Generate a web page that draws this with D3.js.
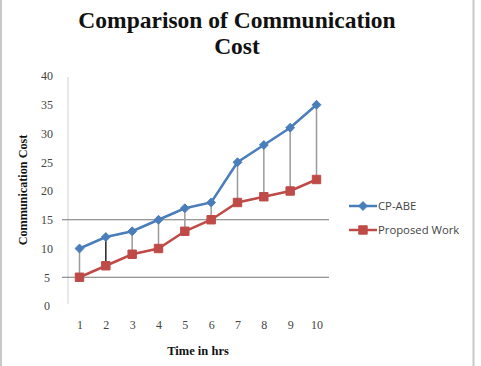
<!DOCTYPE html>
<html><head><meta charset="utf-8">
<script src="https://cdn.jsdelivr.net/npm/d3@7"></script>
<style>body{margin:0;background:#fff}svg{display:block}</style>
</head><body>
<svg id="c" width="481" height="366"></svg>
<script>
const hours = [1,2,3,4,5,6,7,8,9,10];
const cpabe = [10,12,13,15,17,18,25,28,31,35];
const proposed = [5,7,9,10,13,15,18,19,20,22];
const yTicks = [0,5,10,15,20,25,30,35,40];
const gridVals = [5,15];
const seriesNames = ["CP-ABE","Proposed Work"];

const svg = d3.select("#c");
// border
svg.append("line").attr("x1",1).attr("x2",1).attr("y1",0).attr("y2",366).attr("stroke","#c8c8c8").attr("stroke-width",2);
svg.append("line").attr("x1",473.5).attr("x2",473.5).attr("y1",0).attr("y2",366).attr("stroke","#c8c8c8").attr("stroke-width",2);

const x = d3.scalePoint().domain(hours).range([79.5,316.5]);
const y = d3.scaleLinear().domain([0,40]).range([306,76]);

// title
const serif = "'Liberation Serif','Times New Roman',serif";
svg.append("text").attr("x",237).attr("y",28).attr("text-anchor","middle")
  .attr("font-family",serif).attr("font-weight","bold").attr("font-size",23.5).attr("fill","#111")
  .text("Comparison of Communication");
svg.append("text").attr("x",237).attr("y",54).attr("text-anchor","middle")
  .attr("font-family",serif).attr("font-weight","bold").attr("font-size",23.5).attr("fill","#111")
  .text("Cost");

// y axis line
svg.append("line").attr("x1",68).attr("x2",68).attr("y1",y(40)+1).attr("y2",y(0)-2).attr("stroke","#d0d0d0").attr("stroke-width",1);
// gridlines
svg.selectAll(".grid").data(gridVals).join("line")
  .attr("x1",62).attr("x2",329).attr("y1",d=>y(d)).attr("y2",d=>y(d))
  .attr("stroke","#777").attr("stroke-width",1);

// y tick labels
const yAxis = d3.axisLeft(y).tickValues(yTicks).tickSize(0).tickPadding(0);
const gy = svg.append("g").attr("transform","translate(53,0)").call(yAxis);
gy.select(".domain").remove();
gy.selectAll("text").attr("font-family",serif).attr("font-size",12).attr("fill","#444").attr("text-anchor","middle").attr("x",-6);

// x tick labels
const xAxis = d3.axisBottom(x).tickSize(0).tickPadding(0);
const gx = svg.append("g").attr("transform","translate(0,320)").call(xAxis);
gx.select(".domain").remove();
gx.selectAll("text").attr("font-family",serif).attr("font-size",12).attr("fill","#444");

// axis titles
svg.append("text").attr("x",198).attr("y",355).attr("text-anchor","middle")
  .attr("font-family",serif).attr("font-weight","bold").attr("font-size",12.5).attr("fill","#111")
  .text("Time in hrs");
svg.append("text").attr("transform","translate(27,190) rotate(-90)").attr("text-anchor","middle")
  .attr("font-family",serif).attr("font-weight","bold").attr("font-size",12.2).attr("fill","#111")
  .text("Communication Cost");

// high-low lines
svg.selectAll(".hl").data(hours).join("line")
  .attr("x1",d=>x(d)).attr("x2",d=>x(d))
  .attr("y1",(d,i)=>y(cpabe[i])).attr("y2",(d,i)=>y(proposed[i]))
  .attr("stroke",(d,i)=> i===1 ? "#222" : "#9a9a9a").attr("stroke-width",1.5);

const blue = "#4a7ebb", red = "#be4b48";
const line = d3.line().x((d,i)=>x(hours[i])).y(d=>y(d));
svg.append("path").datum(cpabe).attr("d",line).attr("fill","none").attr("stroke",blue).attr("stroke-width",2.5);
svg.append("path").datum(proposed).attr("d",line).attr("fill","none").attr("stroke",red).attr("stroke-width",2.5);

const diamond = d3.symbol().type(d3.symbolDiamond2).size(50);
const square = d3.symbol().type(d3.symbolSquare2).size(90);
svg.selectAll(".mb").data(cpabe).join("path")
  .attr("transform",(d,i)=>`translate(${x(hours[i])},${y(d)})`).attr("d",diamond).attr("fill",blue).attr("stroke",blue).attr("stroke-width",1);
svg.selectAll(".mr").data(proposed).join("path")
  .attr("transform",(d,i)=>`translate(${x(hours[i])},${y(d)})`).attr("d",square).attr("fill",red).attr("stroke",red).attr("stroke-width",1);

// legend
const sans = "'Open Sans','Noto Sans',sans-serif";
const lg = [{name:seriesNames[0],c:blue,s:diamond,y:206},{name:seriesNames[1],c:red,s:square,y:230}];
lg.forEach(l=>{
  svg.append("line").attr("x1",349).attr("x2",377).attr("y1",l.y).attr("y2",l.y).attr("stroke",l.c).attr("stroke-width",2.5);
  svg.append("path").attr("transform",`translate(363,${l.y})`).attr("d",l.s).attr("fill",l.c).attr("stroke",l.c);
  svg.append("text").attr("x",378).attr("y",l.y+4).attr("font-family",sans).attr("font-size",11.3).attr("fill","#444").text(l.name);
});
</script>
</body></html>
